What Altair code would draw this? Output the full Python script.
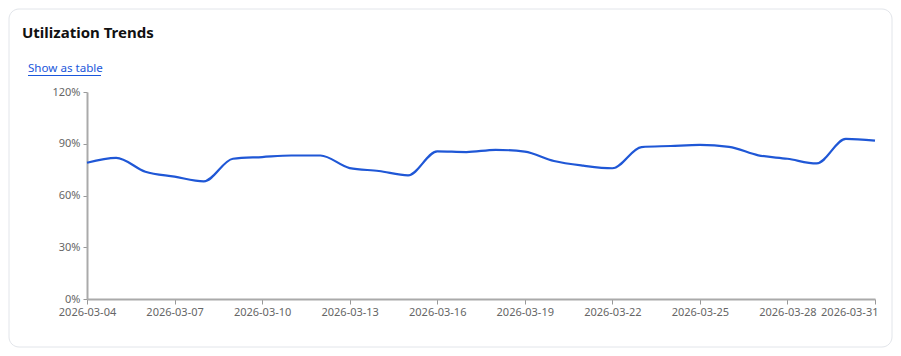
import altair as alt
import pandas as pd

# ---- data ----
dates = [f"2026-03-{d:02d}" for d in range(4, 32)]
utilization = [79.0, 81.8, 73.8, 70.9, 68.2, 81.3, 82.3, 83.2, 83.2, 75.9,
               74.2, 71.7, 85.6, 85.2, 86.5, 85.4, 80.0, 77.3, 75.8, 88.1,
               88.7, 89.3, 88.2, 83.3, 81.3, 78.6, 92.8, 91.8]
tick_days = [4, 7, 10, 13, 16, 19, 22, 25, 28, 31]
y_ticks = [0, 0.3, 0.6, 0.9, 1.2]
title_text = "Utilization Trends"
link_text = "Show as table"

df = pd.DataFrame({"date": dates, "value": [v / 100 for v in utilization]})

FONT = "Noto Sans"
W, H = 788, 207
PAD = {"left": 79, "top": 84, "right": 18, "bottom": 49}

one = alt.Data(values=[{}])

card = alt.Chart(one).mark_rect(
    fillOpacity=0, stroke="#e2e5ea", strokeWidth=1, cornerRadius=10
).encode(
    x=alt.value(-78), x2=alt.value(W + 17), y=alt.value(-83), y2=alt.value(H + 48)
)

title = alt.Chart(one).mark_text(
    align="left", baseline="middle", font=FONT, fontSize=15, fontWeight="bold", color="#111111"
).encode(x=alt.value(-65), y=alt.value(-59), text=alt.value(title_text))

link = alt.Chart(one).mark_text(
    align="left", baseline="middle", font=FONT, fontSize=11.6, color="#1a56db"
).encode(x=alt.value(-59), y=alt.value(-23), text=alt.value(link_text))

underline = alt.Chart(one).mark_rule(color="#1a56db", strokeWidth=1).encode(
    x=alt.value(-59), x2=alt.value(14), y=alt.value(-16.5)
)

line = alt.Chart(df).mark_line(
    color="#1f57d6", strokeWidth=2.2, interpolate="monotone"
).encode(
    x=alt.X(
        "date:T",
        scale=alt.Scale(type="utc", nice=False),
        axis=alt.Axis(
            title=None,
            format="%Y-%m-%d",
            values=[alt.DateTime(year=2026, month=3, date=d, utc=True) for d in tick_days],
            labelAngle=0,
            tickSize=5,
            labelPadding=2,
            labelFlush=False,
            labelAlign={"condition": {"test": "datum.index == 1", "value": "right"}, "value": "center"},
            labelOffset={"condition": {"test": "datum.index == 1", "value": 3}, "value": 0},
        ),
    ),
    y=alt.Y(
        "value:Q",
        scale=alt.Scale(domain=[0, 1.2], nice=False),
        axis=alt.Axis(title=None, format=".0%", values=y_ticks, tickSize=4, labelPadding=3),
    ),
)

chart = alt.layer(card, title, link, underline, line).properties(
    width=W, height=H, autosize=alt.AutoSizeParams(type="none"), padding=PAD,
    background="white",
).configure_view(stroke=None).configure_axis(
    grid=False,
    domainColor="#aaaaaa",
    domainWidth=2,
    tickColor="#999999",
    tickWidth=1,
    labelColor="#666666",
    labelFont=FONT,
    labelFontSize=11,
)

chart.save("out.html", embed_options={"renderer": "svg", "actions": False})
